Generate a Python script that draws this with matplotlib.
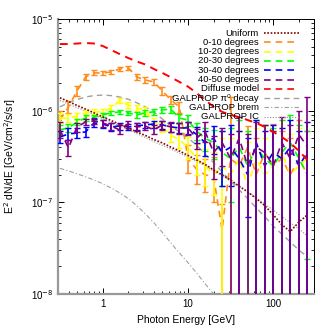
import numpy as np
import matplotlib
matplotlib.use('Agg')
import matplotlib.pyplot as plt
from matplotlib.lines import Line2D

plt.rcParams['font.family'] = ['Liberation Sans', 'DejaVu Sans']

# photon energy bin centres [GeV]
energy = [0.316, 0.398, 0.501, 0.631, 0.794, 1.0, 1.26, 1.58, 2.0, 2.51,
          3.16, 3.98, 5.01, 6.31, 7.94, 10.0, 12.6, 15.8, 20.0, 25.1,
          31.6, 39.8, 50.1, 63.1, 79.4, 100.0, 126.0, 158.0, 200.0, 251.0]

# all fluxes in units of 1e-7 GeV/cm2/s/sr
# ring spectra: value, lower bound, upper bound
ring_0_10 = [7.9, 11.0, 16.4, 23.3, 25.8, 25.8, 26.4, 28.5, 29.3, 23.3,
             21.6, 20.6, 16.4, 13.1, 11.0, 3.0, 2.3, 2.0, 1.9, 0.5,
             3.0, 2.5, 4.0, 2.0, 3.5, 2.5, 3.0, 2.0, 3.0, 2.0]
ring_0_10_lo = [6.3, 9.5, 14.5, 21.5, 24.3, 24.5, 25.0, 27.0, 27.8, 21.8,
                20.0, 19.0, 15.0, 11.8, 9.5, 2.1, 1.6, 1.3, 1.0, 0.05,
                0.05, 0.05, 0.05, 0.05, 0.05, 0.05, 0.05, 0.05, 0.05, 0.05]
ring_0_10_hi = [9.8, 12.8, 18.5, 25.3, 27.5, 27.3, 28.0, 30.1, 31.0, 25.0,
                23.3, 22.3, 18.0, 14.5, 12.5, 4.2, 3.3, 3.0, 3.1, 0.95,
                14.0, 6.0, 6.8, 5.0, 7.0, 7.1, 6.0, 5.0, 8.0, 6.0]

ring_10_20 = [8.3, 8.3, 8.75, 9.45, 9.7, 9.7, 10.7, 12.8, 11.5, 10.7,
              10.2, 7.5, 6.6, 5.4, 4.8, 4.0, 3.0, 2.5, 2.0, 2.5,
              2.0, 3.0, 1.5, 3.0, 2.0, 2.5, 3.5, 2.0, 2.5, 3.0]
ring_10_20_lo = [7.3, 7.5, 8.0, 8.8, 9.1, 9.1, 10.0, 12.0, 10.7, 9.9,
                 9.3, 6.7, 5.8, 4.6, 3.9, 3.0, 2.0, 1.5, 1.2, 0.05,
                 0.05, 0.05, 0.05, 0.05, 0.05, 0.05, 0.05, 0.05, 0.05, 0.05]
ring_10_20_hi = [9.4, 9.2, 9.5, 10.1, 10.3, 10.3, 11.4, 13.7, 12.3, 11.5,
                 11.1, 8.3, 7.4, 6.3, 5.7, 5.1, 4.3, 3.8, 3.5, 5.0,
                 5.0, 6.0, 4.5, 6.5, 5.0, 6.0, 8.0, 5.5, 6.5, 7.5]

ring_20_30 = [6.16, 6.48, 7.53, 8.32, 8.5, 9.0, 9.45, 9.7, 9.45, 9.0,
              9.45, 9.7, 10.2, 10.4, 8.3, 7.9, 6.0, 5.0, 4.5, 3.5,
              3.0, 4.0, 2.5, 4.0, 3.0, 2.5, 3.5, 4.5, 3.0, 2.0]
ring_20_30_lo = [5.4, 5.8, 6.9, 7.8, 8.0, 8.5, 8.9, 9.2, 8.9, 8.4,
                 8.8, 9.0, 9.4, 9.5, 7.4, 6.8, 4.8, 3.6, 3.0, 1.5,
                 1.0, 0.05, 0.05, 0.05, 0.05, 0.05, 0.05, 0.05, 0.05, 0.24]
ring_20_30_hi = [7.0, 7.2, 8.2, 8.9, 9.0, 9.5, 10.0, 10.2, 10.0, 9.6,
                 10.1, 10.4, 11.0, 11.3, 9.3, 9.0, 7.3, 6.5, 6.2, 6.0,
                 6.5, 8.0, 6.0, 8.0, 7.0, 6.5, 8.0, 9.0, 7.0, 6.0]

ring_30_40 = [5.16, 5.57, 5.71, 5.86, 7.34, 7.16, 6.64, 6.81, 6.64, 6.81,
              7.0, 7.16, 7.0, 6.64, 6.48, 6.48, 5.5, 4.5, 5.0, 3.5,
              4.0, 3.0, 2.0, 4.5, 2.5, 3.5, 3.0, 4.0, 2.5, 3.5]
ring_30_40_lo = [4.4, 4.8, 5.0, 5.1, 6.6, 6.5, 6.0, 6.2, 6.1, 6.2,
                 6.4, 6.5, 6.3, 5.9, 5.7, 5.5, 4.4, 3.2, 3.4, 1.5,
                 1.5, 0.05, 0.7, 0.05, 0.05, 0.05, 0.05, 0.05, 0.05, 0.05]
ring_30_40_hi = [6.0, 6.4, 6.5, 6.7, 8.1, 7.9, 7.3, 7.4, 7.2, 7.4,
                 7.6, 7.8, 7.7, 7.4, 7.3, 7.5, 6.7, 6.0, 6.8, 6.0,
                 7.0, 6.0, 5.0, 8.0, 6.0, 7.0, 6.5, 8.0, 6.0, 7.5]

ring_40_50 = [6.16, 3.92, 6.64, 7.53, 7.7, 7.34, 6.81, 6.16, 7.16, 6.64,
              6.81, 6.16, 7.0, 6.64, 6.48, 6.48, 5.0, 6.0, 3.5, 4.5,
              3.0, 5.0, 2.5, 4.0, 3.5, 2.5, 4.5, 3.0, 5.5, 4.0]
ring_40_50_lo = [5.0, 3.2, 5.9, 6.9, 7.1, 6.7, 6.2, 5.5, 6.5, 6.0,
                 6.1, 5.5, 6.2, 5.8, 5.6, 5.4, 3.8, 4.6, 1.8, 2.5,
                 0.05, 0.05, 0.05, 0.05, 0.05, 0.05, 0.05, 0.05, 0.05, 0.05]
ring_40_50_hi = [7.5, 4.8, 7.4, 8.2, 8.3, 8.0, 7.4, 6.9, 7.8, 7.3,
                 7.5, 6.9, 7.8, 7.5, 7.4, 7.6, 6.3, 7.5, 5.3, 6.5,
                 5.5, 8.5, 5.5, 7.5, 7.0, 6.0, 8.5, 7.0, 10.0, 14.0]

uniform = [13.8, 12.6, 11.4, 10.4, 9.45, 8.55, 7.8, 7.1, 6.48, 5.86,
           5.37, 4.85, 4.45, 4.0, 3.63, 3.25, 2.9, 2.6, 2.25, 2.0,
           1.75, 1.5, 1.3, 1.1, 0.92, 0.73, 0.57, 0.48, 0.61, 0.73]
diffuse_model = [53.3, 53.3, 54.0, 54.7, 54.0, 50.8, 45.9, 41.5, 37.5, 34.4,
                 31.9, 28.5, 25.8, 23.1, 20.6, 18.3, 15.6, 13.1, 11.0, 9.7,
                 9.0, 8.5, 7.9, 7.34, 6.64, 5.86, 5.16, 4.45, 3.63, 2.9]
galprop_pi0 = [11.0, 12.2, 13.2, 14.1, 14.6, 14.8, 14.6, 14.1, 13.3, 12.2,
               11.0, 9.7, 8.1, 6.8, 5.86, 5.03, 4.22, 3.37, 2.7, 2.15,
               1.7, 1.37, 1.1, 0.87, 0.7, 0.55, 0.45, 0.37, 0.30, 0.255]
galprop_brem = [2.35, 2.2, 2.05, 1.9, 1.75, 1.6, 1.43, 1.27, 1.1, 0.92,
                0.75, 0.6, 0.47, 0.36, 0.28, 0.22, 0.17, 0.13, 0.10, 0.08,
                0.06, 0.045, 0.034, 0.026, 0.02, 0.015, 0.011, 0.008, 0.006, 0.0045]
galprop_ic = [12.9, 11.8, 10.8, 9.9, 9.0, 8.2, 7.5, 6.8, 6.2, 5.6,
              5.1, 4.6, 4.2, 3.8, 3.45, 3.1, 2.8, 2.5, 2.2, 1.95,
              1.7, 1.5, 1.3, 1.12, 0.96, 0.82, 0.7, 0.6, 0.51, 0.43]

labels = ['Uniform', '0-10 degrees', '10-20 degrees', '20-30 degrees',
          '30-40 degrees', '40-50 degrees', 'Diffuse model',
          'GALPROP \u03c0\u2070 decay', 'GALPROP brem', 'GALPROP IC']

scale = 1e-7
E = np.array(energy)

fig = plt.figure(figsize=(3.32, 3.32), dpi=100)
ax = fig.add_axes([0.1747, 0.1145, 0.7711, 0.8283])
ax.set_xscale('log')
ax.set_yscale('log')

grey = '#a0a0a0'
# model curves
ax.plot(E, np.array(galprop_ic) * scale, color='#909090', lw=0.8, ls=(0, (1, 1.5)), zorder=2)
ax.plot(E, np.array(galprop_brem) * scale, color=grey, lw=0.8, ls=(0, (4, 2, 1, 2)), zorder=2)
ax.plot(E, np.array(galprop_pi0) * scale, color=grey, lw=1.0, ls=(0, (4, 3)), zorder=2)

rings = [
    (ring_0_10, ring_0_10_lo, ring_0_10_hi, '#ff8c1a'),
    (ring_10_20, ring_10_20_lo, ring_10_20_hi, '#ffff00'),
    (ring_20_30, ring_20_30_lo, ring_20_30_hi, '#00ff00'),
    (ring_30_40, ring_30_40_lo, ring_30_40_hi, '#0000ff'),
    (ring_40_50, ring_40_50_lo, ring_40_50_hi, '#800080'),
]
for k, (v, lo, hi, c) in enumerate(rings):
    v = np.array(v) * scale
    lo = np.array(lo) * scale
    hi = np.array(hi) * scale
    ax.errorbar(E, v, yerr=[v - lo, hi - v], color=c, lw=1.2, ls=(0, (4, 3)),
                elinewidth=1.2, capsize=2.0, capthick=1.0, zorder=3 + k)

ax.plot(E, np.array(uniform) * scale, color='#8b0000', lw=1.2, ls=(0, (1, 1)), zorder=9)
ax.plot(E, np.array(diffuse_model) * scale, color='#ff0000', lw=1.4, ls=(0, (4, 3)), zorder=10)

ax.set_xlim(0.3, 300)
ax.set_ylim(1e-8, 1e-5)
ax.set_xticks([1, 10, 100])
ax.set_xticklabels(['1', '10', '100'])
ax.set_yticks([1e-8, 1e-7, 1e-6, 1e-5])
ax.set_yticklabels([r'10$^{-8}$', r'10$^{-7}$', r'10$^{-6}$', r'10$^{-5}$'])
ax.tick_params(which='both', direction='in', top=True, right=True, labelsize=7)
ax.tick_params(which='major', length=4, width=0.7)
ax.tick_params(which='minor', length=2, width=0.6)
ax.yaxis.set_minor_formatter(matplotlib.ticker.NullFormatter())
ax.xaxis.set_minor_formatter(matplotlib.ticker.NullFormatter())
for s in ['left', 'bottom']:
    ax.spines[s].set_color('#999999')
    ax.spines[s].set_linewidth(1.6)
for s in ['top', 'right']:
    ax.spines[s].set_linewidth(0.7)

ax.set_xlabel('Photon Energy [GeV]', fontsize=7.5)
ax.set_ylabel(r'E$^2$ dN/dE [GeV/cm$^2$/s/sr]', fontsize=7.5)
ax.xaxis.set_label_coords(0.5, -0.078)
ax.yaxis.set_label_coords(-0.156, 0.5)

# legend (drawn manually, gnuplot style: label then sample)
styles = [('#8b0000', (0, (1, 1)), 1.2), ('#ff8c1a', (0, (4, 3)), 1.2),
          ('#ffff00', (0, (4, 3)), 1.2), ('#00ff00', (0, (4, 3)), 1.2),
          ('#0000ff', (0, (4, 3)), 1.2), ('#800080', (0, (4, 3)), 1.2),
          ('#ff0000', (0, (4, 3)), 1.2), (grey, (0, (4, 3)), 1.0),
          (grey, (0, (4, 2, 1, 2)), 0.8), ('#909090', (0, (1, 1.5)), 0.8)]
W = 332.0
for j, (lab, (c, ls, lw)) in enumerate(zip(labels, styles)):
    ypix = 33 + j * 9.3
    yf = 1 - ypix / W
    fig.text(259 / W, yf, lab, ha='right', va='center', fontsize=6.8, zorder=20)
    fig.add_artist(Line2D([264 / W, 299 / W], [yf, yf], color=c, ls=ls, lw=lw,
                          transform=fig.transFigure, zorder=20))

fig.savefig('out.png', dpi=100)
